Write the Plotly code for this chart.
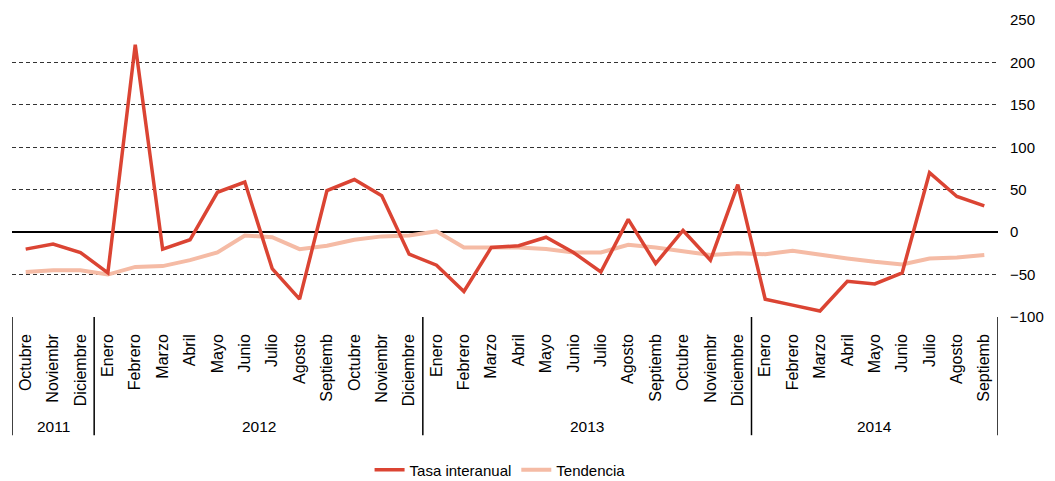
import plotly.graph_objects as go

years = ["2011", "2012", "2013", "2014"]
months_per_year = [3, 12, 12, 9]
months = ["Octubre", "Noviembr", "Diciembre",
          "Enero", "Febrero", "Marzo", "Abril", "Mayo", "Junio", "Julio", "Agosto", "Septiemb", "Octubre", "Noviembr", "Diciembre",
          "Enero", "Febrero", "Marzo", "Abril", "Mayo", "Junio", "Julio", "Agosto", "Septiemb", "Octubre", "Noviembr", "Diciembre",
          "Enero", "Febrero", "Marzo", "Abril", "Mayo", "Junio", "Julio", "Agosto", "Septiemb"]

tasa = [-20, -14, -24,
        -48, 221, -20, -9, 47, 59, -43, -79, 49, 62, 43, -26,
        -39, -70, -18, -16, -6, -24, -47, 15, -37, 2, -33, 56,
        -79, -86, -93, -58, -61, -48, 70, 42, 31]

tendencia = [-47, -45, -45,
             -50, -41, -40, -33, -24, -4, -6, -20, -16, -9, -5, -4,
             1, -18, -18, -18, -20, -24, -24, -15, -18, -22, -27, -25,
             -26, -22, -27, -31, -35, -38, -31, -30, -27]

y_ticks = [-100, -50, 0, 50, 100, 150, 200, 250]

idx = list(range(len(months)))

fig = go.Figure()
fig.add_trace(go.Scatter(x=idx, y=tendencia, mode="lines", name="Tendencia", legendrank=2,
                         line=dict(color="#F5BBA5", width=4)))
fig.add_trace(go.Scatter(x=idx, y=tasa, mode="lines", name="Tasa interanual", legendrank=1,
                         line=dict(color="#DB4433", width=3.5)))

# year group labels and dividers
bounds = [-0.5]
for n in months_per_year:
    bounds.append(bounds[-1] + n)
for b in bounds:
    fig.add_shape(type="line", xref="x", yref="paper", x0=b, x1=b, y0=0, y1=-0.398,
                  line=dict(color="black", width=1.5))
for i, yr in enumerate(years):
    fig.add_annotation(x=(bounds[i] + bounds[i + 1]) / 2, y=-0.37, xref="x", yref="paper",
                       text=yr, showarrow=False, font=dict(size=15.5), yanchor="middle")

fig.update_layout(
    template="none",
    width=1047, height=473,
    margin=dict(l=4, r=57, t=12, b=164, autoexpand=False),
    paper_bgcolor="white", plot_bgcolor="white",
    font=dict(family="Liberation Sans, Arial, sans-serif", size=15, color="black"),
    showlegend=True,
    legend=dict(orientation="h", x=0.495, xanchor="center", y=-0.515, yanchor="middle",
                font=dict(size=15), itemwidth=30),
)
fig.update_xaxes(automargin=False, range=[-0.5, len(months) - 0.5], tickvals=idx, ticktext=months,
                 tickangle=-90, showgrid=False, showline=False, zeroline=False,
                 ticks="", tickfont=dict(size=16), ticklabelstandoff=13)
fig.update_yaxes(automargin=False, side="right", range=[-100, 250], tickvals=y_ticks,
                 showgrid=True, gridcolor="#333333", griddash="4px,3px", gridwidth=1,
                 zeroline=True, zerolinecolor="black", zerolinewidth=1.5,
                 ticks="", tickfont=dict(size=15), showline=False, ticklabelstandoff=11)

fig.write_html("out.html")
